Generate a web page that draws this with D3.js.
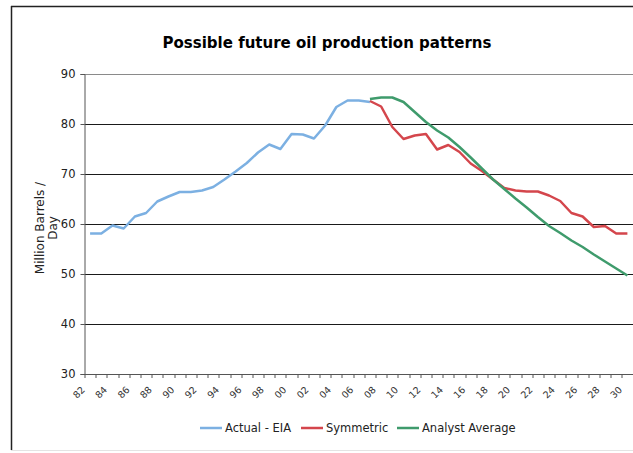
<!DOCTYPE html>
<html>
<head>
<meta charset="utf-8">
<script src="https://cdn.jsdelivr.net/npm/d3@7"></script>
<style>
  body { margin: 0; background: #fff; }
  text { font-family: "DejaVu Sans", Verdana, sans-serif; fill: #222; }
</style>
</head>
<body>
<script>
// categories: one per year, 1982 .. 2030
var years = [1982, 1983, 1984, 1985, 1986, 1987, 1988, 1989, 1990, 1991, 1992, 1993, 1994,
             1995, 1996, 1997, 1998, 1999, 2000, 2001, 2002, 2003, 2004, 2005, 2006, 2007,
             2008, 2009, 2010, 2011, 2012, 2013, 2014, 2015, 2016, 2017, 2018, 2019, 2020,
             2021, 2022, 2023, 2024, 2025, 2026, 2027, 2028, 2029, 2030];
var yTicks = [30, 40, 50, 60, 70, 80, 90];

// Actual - EIA, 1982 .. 2007
var actualYears = years.slice(0, 26);
var actual = [58.1, 58.1, 59.7, 59.1, 61.5, 62.2, 64.5, 65.5, 66.4, 66.4, 66.7, 67.4, 68.9,
              70.5, 72.2, 74.3, 75.9, 75.0, 78.0, 77.9, 77.1, 79.7, 83.4, 84.7, 84.7, 84.4];

// Symmetric and Analyst Average, 2007 .. 2030
var forecastYears = years.slice(25);
var symmetric = [84.6, 83.5, 79.4, 77.0, 77.7, 78.0, 74.9, 75.8, 74.4, 72.1, 70.6, 68.9,
                 67.2, 66.7, 66.5, 66.5, 65.7, 64.6, 62.2, 61.5, 59.4, 59.6, 58.1, 58.1];
var analyst = [85.0, 85.3, 85.3, 84.4, 82.4, 80.4, 78.7, 77.3, 75.4, 73.3, 71.1, 68.9,
               67.0, 65.1, 63.3, 61.4, 59.6, 58.2, 56.7, 55.4, 53.9, 52.5, 51.1, 49.7];

var series = [
    {name: "Actual - EIA", color: "#7cb0e2", years: actualYears, values: actual},
    {name: "Symmetric", color: "#d4464c", years: forecastYears, values: symmetric},
    {name: "Analyst Average", color: "#3f9b6c", years: forecastYears, values: analyst}
];

var W = 633, H = 453;
var margin = {top: 74, right: 0, bottom: 79, left: 84.5},
    width = W - margin.left - margin.right,
    height = H - margin.top - margin.bottom;

var x = d3.scaleBand().domain(years).range([0, width]);
var y = d3.scaleLinear().domain([30, 90]).range([height, 0]);
var cx = function(d) { return x(d) + x.bandwidth() / 2; };

var root = d3.select("body").append("svg")
    .attr("width", W)
    .attr("height", H);

// chart frame (right side is cut off in the original)
root.append("line").attr("x1", 11).attr("x2", W).attr("y1", 6.5).attr("y2", 6.5)
    .attr("stroke", "#222").attr("stroke-width", 1.5);
root.append("line").attr("x1", 11.5).attr("x2", 11.5).attr("y1", 6).attr("y2", 450)
    .attr("stroke", "#222").attr("stroke-width", 1.5);
root.append("line").attr("x1", 11).attr("x2", W).attr("y1", 450.5).attr("y2", 450.5)
    .attr("stroke", "#e4e4e4");

root.append("text")
    .attr("x", 327).attr("y", 48)
    .attr("text-anchor", "middle")
    .style("font-size", "15px").style("font-weight", "bold")
    .style("fill", "#000")
    .text("Possible future oil production patterns");

var svg = root.append("g")
    .attr("transform", "translate(" + margin.left + "," + margin.top + ")");

// horizontal gridlines
svg.append("g").selectAll("line")
    .data(yTicks.slice(1))
    .join("line")
    .attr("x1", 0).attr("x2", width)
    .attr("y1", d => Math.round(y(d)) + 0.5).attr("y2", d => Math.round(y(d)) + 0.5)
    .attr("stroke", d => d === 90 ? "#8a8a8a" : "#1a1a1a");

// y axis
var yAxis = svg.append("g")
    .attr("class", "y axis")
    .call(d3.axisLeft(y).tickValues(yTicks).tickSize(4).tickPadding(5));
yAxis.select(".domain").attr("stroke", "#555");
yAxis.selectAll(".tick line").attr("stroke", "#555");
yAxis.selectAll(".tick text").style("font-size", "11.5px").style("fill", "#222");

// x axis: ticks between categories, labels every second year
var xAxis = svg.append("g")
    .attr("class", "x axis")
    .attr("transform", "translate(0," + height + ")");
xAxis.append("line").attr("x1", 0).attr("x2", width).attr("y1", 0.5).attr("y2", 0.5)
    .attr("stroke", "#555");
xAxis.selectAll("line.tk")
    .data(years)
    .join("line")
    .attr("class", "tk")
    .attr("x1", d => Math.round(x(d)) + 0.5).attr("x2", d => Math.round(x(d)) + 0.5)
    .attr("y1", 0).attr("y2", 4)
    .attr("stroke", "#555");
xAxis.selectAll("text")
    .data(years.filter(d => d % 2 === 0))
    .join("text")
    .attr("transform", d => "translate(" + (cx(d) - 7) + ",14) rotate(-45)")
    .attr("text-anchor", "end")
    .attr("dy", "0.35em")
    .style("font-size", "9.5px")
    .style("fill", "#333")
    .text(d => String(d).slice(2));

// y axis title
root.append("text")
    .attr("transform", "translate(44,228) rotate(-90)")
    .attr("text-anchor", "middle")
    .style("font-size", "12px")
    .selectAll("tspan")
    .data(["Million Barrels /", "Day"])
    .join("tspan")
    .attr("x", 0)
    .attr("dy", (d, i) => i === 0 ? "0em" : "1.05em")
    .text(d => d);

// lines
var line = d3.line()
    .x(d => cx(d[0]))
    .y(d => y(d[1]));

svg.selectAll("path.series")
    .data(series)
    .join("path")
    .attr("class", "series")
    .attr("fill", "none")
    .attr("stroke", d => d.color)
    .attr("stroke-width", 2.5)
    .attr("stroke-linejoin", "round")
    .attr("d", d => line(d.years.map((yr, i) => [yr, d.values[i]])));

// legend
var legendX = [200, 301, 397];
var legend = root.append("g").selectAll("g")
    .data(series)
    .join("g")
    .attr("transform", (d, i) => "translate(" + legendX[i] + ",428)");
legend.append("line")
    .attr("x1", 0).attr("x2", 22)
    .attr("stroke", d => d.color)
    .attr("stroke-width", 2.5);
legend.append("text")
    .attr("x", 25).attr("dy", "0.35em")
    .style("font-size", "11.5px")
    .text(d => d.name);
</script>
</body>
</html>
